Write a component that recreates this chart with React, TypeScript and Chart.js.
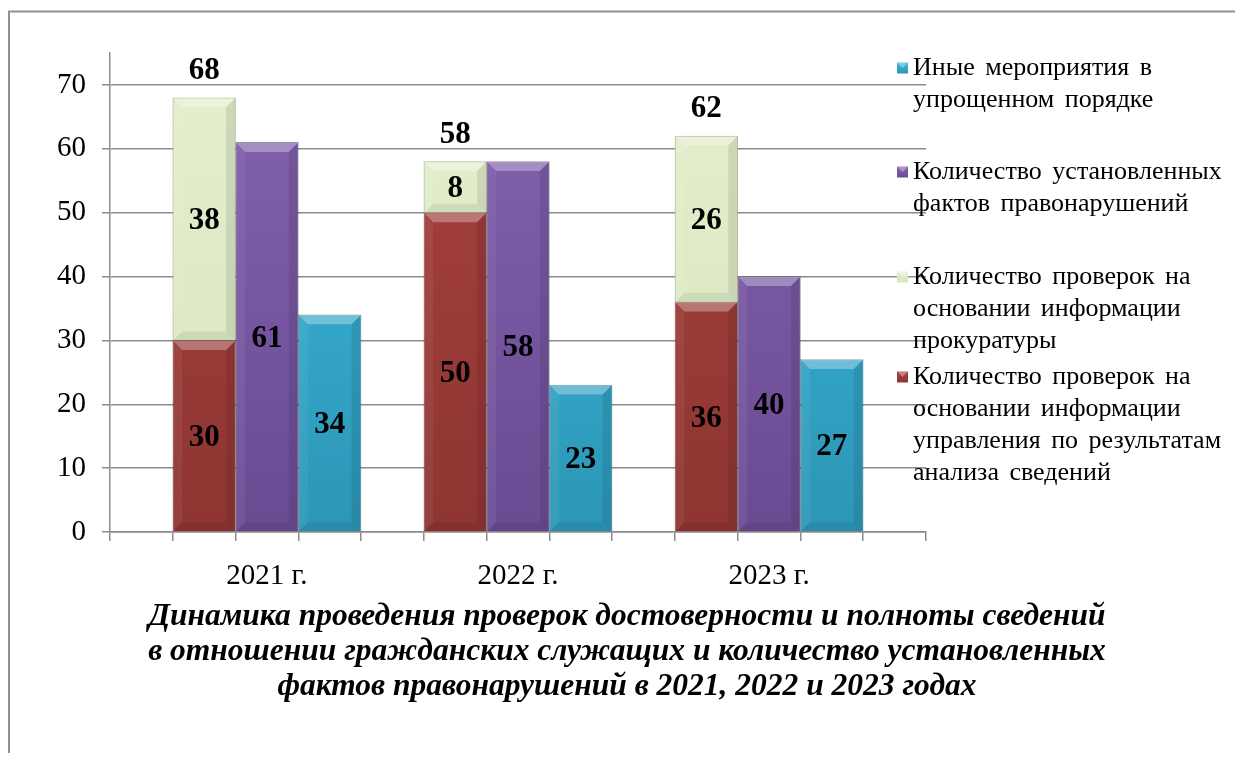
import React, { useEffect, useRef } from 'react';
import { Chart, registerables } from 'chart.js';

Chart.register(...registerables);

// ---------- data ----------
const years = ['2021 г.', '2022 г.', '2023 г.'];
const checksByManagement = [30, 50, 36];
const checksByProsecutor = [38, 8, 26];
const establishedViolations = [61, 58, 40];
const otherSimplified = [34, 23, 27];
const stackTotals = [68, 58, 62];
const yTicks = [0, 10, 20, 30, 40, 50, 60, 70];
const yMax = 75;

const seriesNames = [
  'Количество проверок на основании информации управления по результатам анализа сведений',
  'Количество проверок на основании информации прокуратуры',
  'Количество установленных фактов правонарушений',
  'Иные мероприятия в упрощенном порядке',
];

// legend shown top-to-bottom (reversed order, wrapped as in the original)
const legendLines = [
  ['Иные мероприятия в', 'упрощенном порядке'],
  ['Количество установленных', 'фактов правонарушений'],
  ['Количество проверок на', 'основании информации', 'прокуратуры'],
  ['Количество проверок на', 'основании информации', 'управления по результатам', 'анализа сведений'],
];

const titleLines = [
  'Динамика проведения проверок достоверности и полноты сведений',
  'в отношении гражданских служащих и количество установленных',
  'фактов правонарушений в 2021, 2022 и 2023 годах',
];

// ---------- styling ----------
const SERIF = "'Liberation Serif', 'Times New Roman', serif";
const COLORS = {
  red: { top: '#a8413e', bottom: '#8e3532', flat: '#9c3b38' },
  green: { top: '#e4efcd', bottom: '#d8e5be', flat: '#dfeac5' },
  purple: { top: '#8462b0', bottom: '#6a4b92', flat: '#7756a0' },
  cyan: { top: '#3dbadf', bottom: '#2c96b6', flat: '#35a9cb' },
};
const legendColors = [COLORS.cyan, COLORS.purple, COLORS.green, COLORS.red];

// slot layout: gap, stacked, violations, other, gap, ...
const SLOTS = 4;
const slotCount = years.length * SLOTS + 1;
const slotLabels = Array.from({ length: slotCount }, (_, i) =>
  i % SLOTS === 2 ? years[(i - 2) / SLOTS] : ''
);
function place(values: number[], offset: number) {
  const arr: (number | null)[] = Array(slotCount).fill(null);
  values.forEach((v, i) => {
    arr[i * SLOTS + offset] = v;
  });
  return arr;
}

function grad(c: { top: string; bottom: string; flat: string }) {
  return (ctx: any) => {
    const chart = ctx.chart;
    const area = chart.chartArea;
    if (!area) return c.flat;
    const g = chart.ctx.createLinearGradient(0, area.top, 0, area.bottom);
    g.addColorStop(0, c.top);
    g.addColorStop(1, c.bottom);
    return g;
  };
}

const framePlugin = {
  id: 'frame',
  beforeDraw(chart: any) {
    const c = chart.ctx;
    c.save();
    c.fillStyle = '#ffffff';
    c.fillRect(0, 0, chart.width, chart.height);
    c.strokeStyle = '#8f8f8f';
    c.lineWidth = 2;
    c.beginPath();
    c.moveTo(1, chart.height);
    c.lineTo(1, 3.5);
    c.lineTo(chart.width, 3.5);
    c.stroke();
    c.restore();
  },
};

const bevelPlugin = {
  id: 'bevel',
  afterDatasetsDraw(chart: any) {
    const c = chart.ctx;
    c.save();
    chart.data.datasets.forEach((ds: any, di: number) => {
      const meta = chart.getDatasetMeta(di);
      meta.data.forEach((el: any, i: number) => {
        if (ds.data[i] == null) return;
        const p = el.getProps(['x', 'y', 'base', 'width'], true);
        const l = p.x - p.width / 2 + 0.5;
        const r = p.x + p.width / 2 - 0.5;
        const t = Math.min(p.y, p.base) + 0.5;
        const b = Math.max(p.y, p.base);
        const d = Math.min(9, (b - t) / 3);
        // top facet
        c.fillStyle = 'rgba(255,255,255,0.3)';
        c.beginPath();
        c.moveTo(l, t);
        c.lineTo(r, t);
        c.lineTo(r - d, t + d);
        c.lineTo(l + d, t + d);
        c.closePath();
        c.fill();
        // left facet
        c.fillStyle = 'rgba(255,255,255,0.06)';
        c.beginPath();
        c.moveTo(l, t);
        c.lineTo(l + d, t + d);
        c.lineTo(l + d, b - d);
        c.lineTo(l, b);
        c.closePath();
        c.fill();
        // right facet
        c.fillStyle = 'rgba(0,0,0,0.09)';
        c.beginPath();
        c.moveTo(r, t);
        c.lineTo(r - d, t + d);
        c.lineTo(r - d, b - d);
        c.lineTo(r, b);
        c.closePath();
        c.fill();
        // bottom facet
        c.fillStyle = 'rgba(0,0,0,0.07)';
        c.beginPath();
        c.moveTo(l, b);
        c.lineTo(r, b);
        c.lineTo(r - d, b - d);
        c.lineTo(l + d, b - d);
        c.closePath();
        c.fill();
      });
    });
    c.restore();
  },
};

const labelsPlugin = {
  id: 'valueLabels',
  afterDatasetsDraw(chart: any) {
    const c = chart.ctx;
    c.save();
    c.fillStyle = '#000';
    c.textAlign = 'center';
    c.textBaseline = 'middle';
    c.font = `bold 31px ${SERIF}`;
    chart.data.datasets.forEach((ds: any, di: number) => {
      const meta = chart.getDatasetMeta(di);
      meta.data.forEach((el: any, i: number) => {
        const v = ds.data[i];
        if (v == null) return;
        const p = el.getProps(['x', 'y', 'base'], true);
        c.fillText(String(v), p.x, (p.y + p.base) / 2 + 2);
      });
    });
    // totals above the stacked column
    const topMeta = chart.getDatasetMeta(1);
    const yScale = chart.scales.y;
    stackTotals.forEach((tot, i) => {
      const el = topMeta.data[i * SLOTS + 1];
      if (!el) return;
      c.fillText(String(tot), el.x, yScale.getPixelForValue(tot) - 27);
    });
    c.restore();
  },
};

const legendTitlePlugin = {
  id: 'legendTitle',
  afterDraw(chart: any) {
    const c = chart.ctx;
    c.save();
    // legend
    const itemTops = [60, 164, 269, 369];
    const lineGap = 32;
    const markX = 889;
    const textX = 905;
    c.font = `26px ${SERIF}`;
    (c as any).wordSpacing = '4px';
    c.textAlign = 'left';
    c.textBaseline = 'middle';
    legendLines.forEach((lines, k) => {
      const y0 = itemTops[k];
      const col = legendColors[k];
      const s = 11;
      const g = c.createLinearGradient(0, y0 - s / 2, 0, y0 + s / 2);
      g.addColorStop(0, col.top);
      g.addColorStop(1, col.bottom);
      c.fillStyle = g;
      c.fillRect(markX, y0 - s / 2, s, s);
      c.fillStyle = 'rgba(255,255,255,0.35)';
      c.beginPath();
      c.moveTo(markX, y0 - s / 2);
      c.lineTo(markX + s, y0 - s / 2);
      c.lineTo(markX + s / 2, y0);
      c.closePath();
      c.fill();
      c.fillStyle = '#000';
      lines.forEach((ln, j) => {
        c.fillText(ln, textX, y0 + j * lineGap);
      });
    });
    (c as any).wordSpacing = '0px';
    // title
    c.font = `italic bold 31.5px ${SERIF}`;
    c.textAlign = 'center';
    const titleX = 619;
    const titleY = [609, 644, 679];
    titleLines.forEach((ln, j) => c.fillText(ln, titleX, titleY[j]));
    c.restore();
  },
};

export default function App() {
  const ref = useRef<HTMLCanvasElement | null>(null);

  useEffect(() => {
    if (!ref.current) return;
    const chart = new Chart(ref.current, {
      type: 'bar',
      data: {
        labels: slotLabels,
        datasets: [
          {
            label: seriesNames[0],
            data: place(checksByManagement, 1),
            backgroundColor: grad(COLORS.red),
            borderColor: 'rgba(90,30,28,0.5)',
            borderWidth: 1,
          },
          {
            label: seriesNames[1],
            data: place(checksByProsecutor, 1),
            backgroundColor: grad(COLORS.green),
            borderColor: 'rgba(150,165,120,0.7)',
            borderWidth: 1,
          },
          {
            label: seriesNames[2],
            data: place(establishedViolations, 2),
            backgroundColor: grad(COLORS.purple),
            borderColor: 'rgba(60,40,90,0.5)',
            borderWidth: 1,
          },
          {
            label: seriesNames[3],
            data: place(otherSimplified, 3),
            backgroundColor: grad(COLORS.cyan),
            borderColor: 'rgba(20,90,110,0.5)',
            borderWidth: 1,
          },
        ],
      },
      options: {
        responsive: false,
        animation: false,
        devicePixelRatio: 1,
        layout: { padding: { left: 0, top: 45, right: 309, bottom: 161 } },
        datasets: { bar: { barPercentage: 1, categoryPercentage: 1, skipNull: false } },
        plugins: {
          legend: { display: false },
          tooltip: { enabled: false },
          title: { display: false },
        },
        scales: {
          x: {
            stacked: true,
            offset: true,
            grid: {
              offset: true,
              drawOnChartArea: false,
              drawTicks: true,
              tickLength: 9,
              color: '#8c8c8c',
              lineWidth: 1.5,
            },
            border: { display: true, color: '#8c8c8c', width: 1.5 },
            ticks: {
              autoSkip: false,
              maxRotation: 0,
              minRotation: 0,
              padding: 18,
              color: '#000',
              font: { family: SERIF, size: 29 },
            },
            afterFit(scale: any) {
              scale.height = 60;
            },
          },
          y: {
            stacked: true,
            min: 0,
            max: yMax,
            grid: {
              color: '#8c8c8c',
              lineWidth: 1.5,
              drawTicks: true,
              tickLength: 8,
            },
            border: { display: true, color: '#8c8c8c', width: 1.5 },
            ticks: {
              padding: 16,
              color: '#000',
              font: { family: SERIF, size: 29 },
            },
            afterBuildTicks(scale: any) {
              scale.ticks = yTicks.map((v) => ({ value: v }));
            },
            afterFit(scale: any) {
              scale.width = 102;
            },
          },
        },
      },
      plugins: [framePlugin, bevelPlugin, labelsPlugin, legendTitlePlugin],
    } as any);
    return () => chart.destroy();
  }, []);

  return (
    <div style={{ width: 1227, height: 745 }}>
      <canvas ref={ref} width={1227} height={745} style={{ display: 'block' }} />
    </div>
  );
}
